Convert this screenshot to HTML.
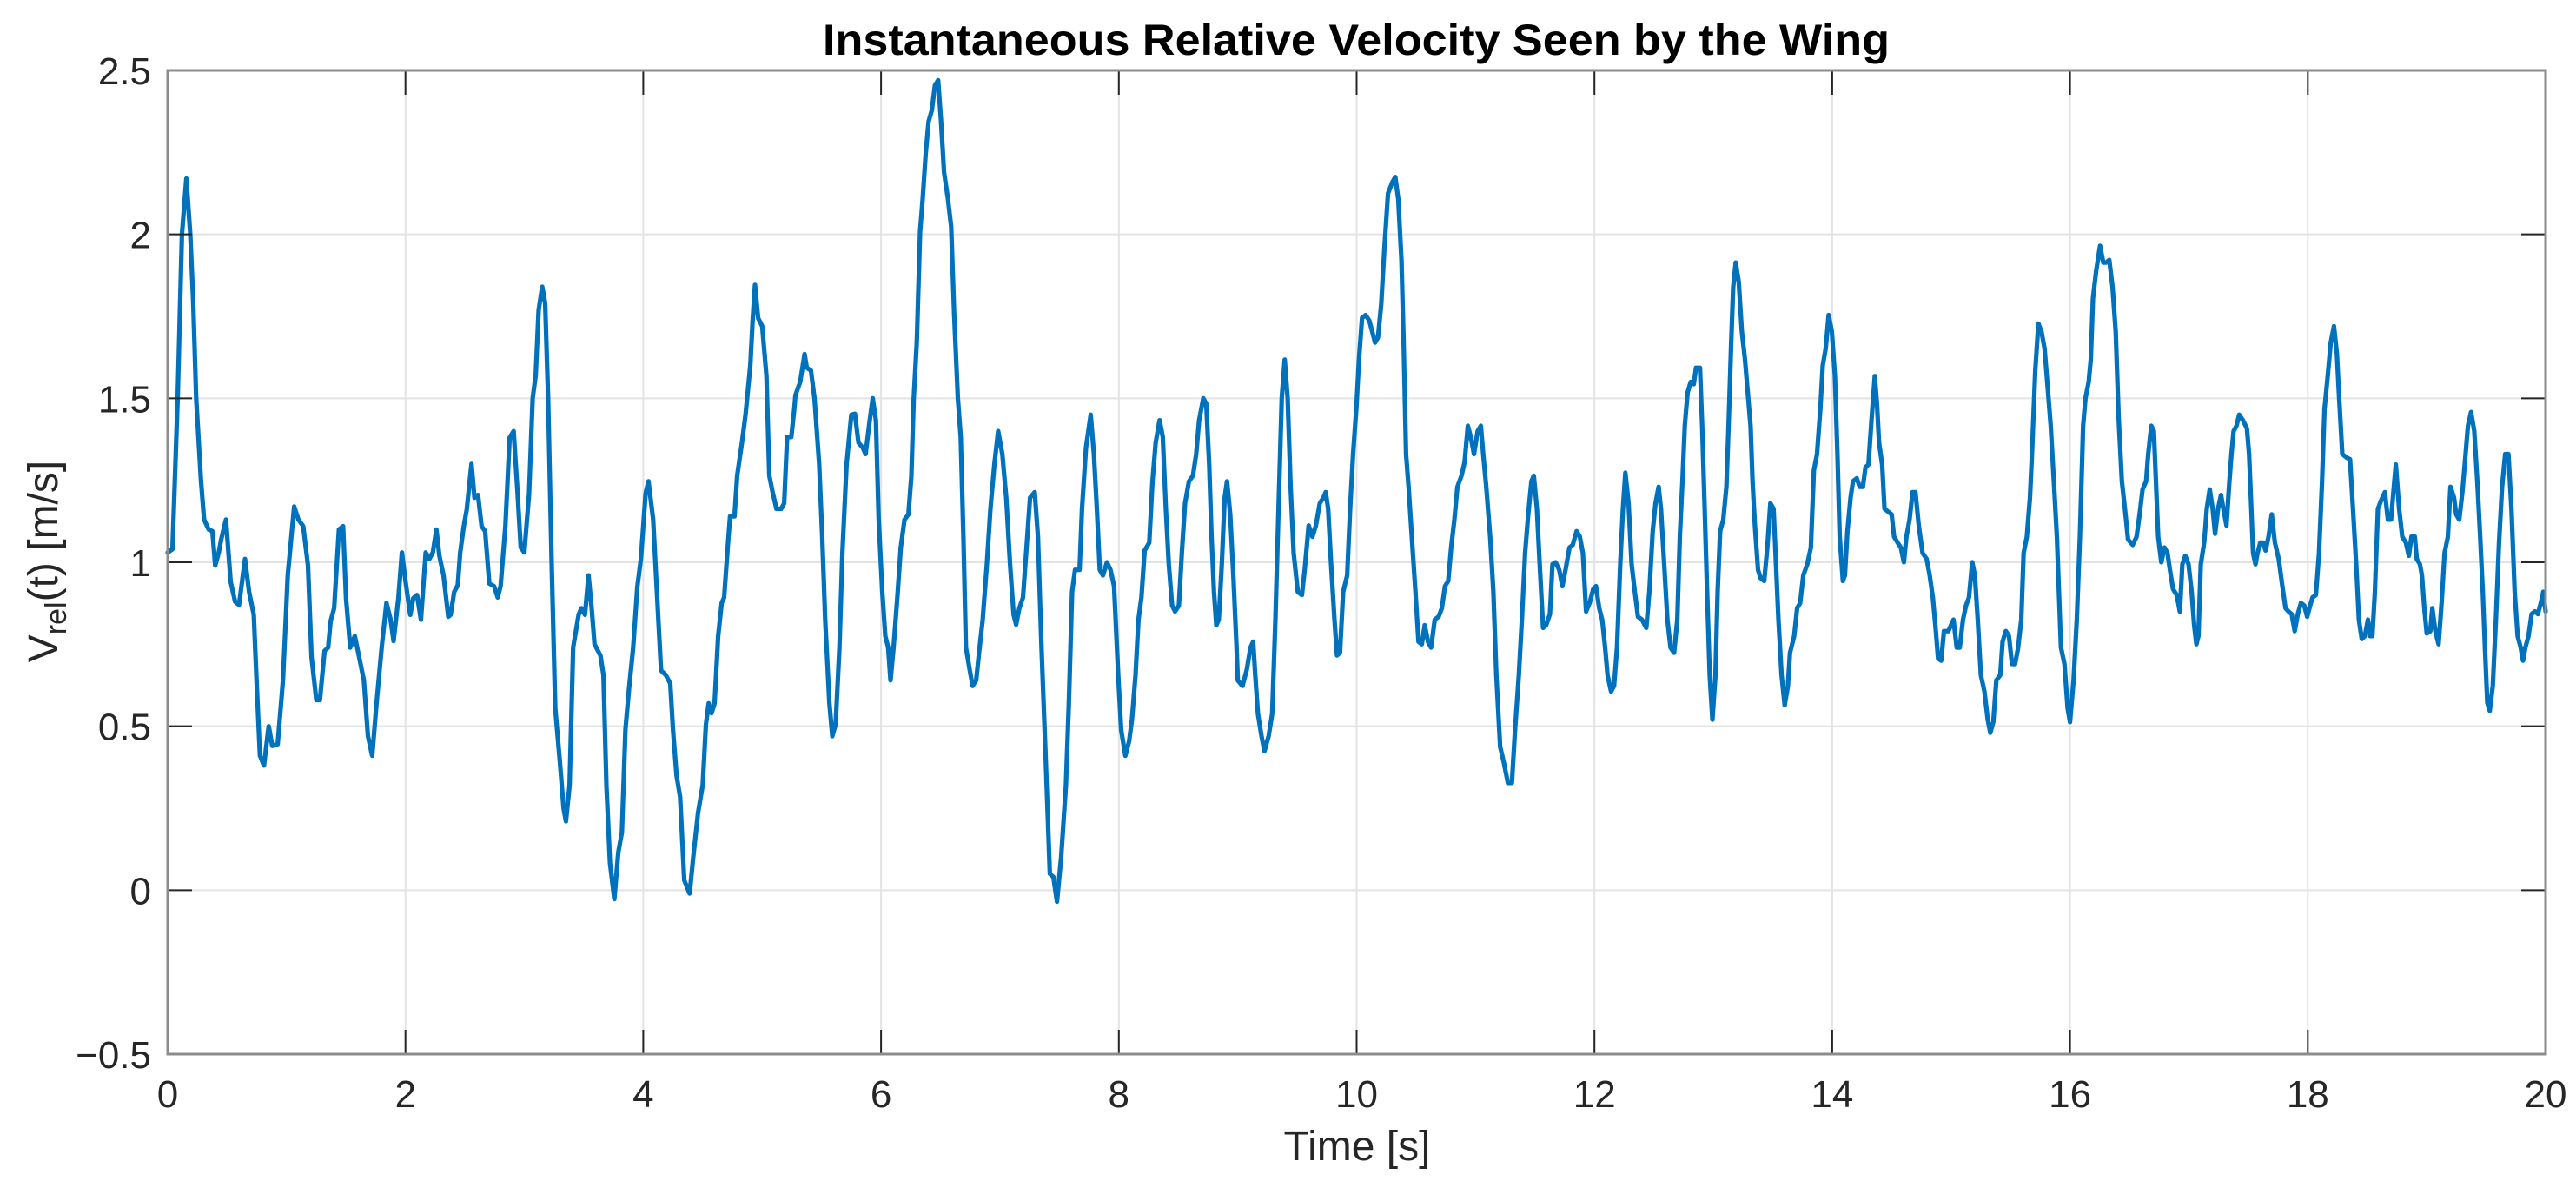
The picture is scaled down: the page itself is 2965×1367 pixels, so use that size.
<!DOCTYPE html>
<html><head><meta charset="utf-8"><style>
html,body{margin:0;padding:0;background:#fff;}
svg{display:block;font-family:"Liberation Sans",Arial,sans-serif;}
</style></head><body>
<svg id="chart" width="2965" height="1367" viewBox="0 0 2965 1367" xmlns="http://www.w3.org/2000/svg">
<rect x="0" y="0" width="2965" height="1367" fill="#fff"/>
<g id="grid"></g>
<g id="series"></g>
<g id="axes"></g>
<text x="1561" y="63" text-anchor="middle" font-weight="bold" font-size="50" textLength="1228" lengthAdjust="spacingAndGlyphs" fill="#000">Instantaneous Relative Velocity Seen by the Wing</text>
<text x="1562" y="1335" text-anchor="middle" font-size="48" fill="#262626">Time [s]</text>
<text transform="translate(66,646) rotate(-90)" text-anchor="middle" font-size="48" fill="#262626">V<tspan font-size="34" dy="10">rel</tspan><tspan dy="-10">(t) [m/s]</tspan></text>
</svg>
<script>
const xTicks = [0,2,4,6,8,10,12,14,16,18,20];
const yTicks = [-0.5,0,0.5,1,1.5,2,2.5];
const yTickLabels = ["\u22120.5","0","0.5","1","1.5","2","2.5"];
const time = [0,0.04,0.084,0.12,0.157,0.19,0.214,0.24,0.28,0.306,0.345,0.376,0.40,0.43,0.45,0.49,0.53,0.567,0.60,0.65,0.685,0.724,0.75,0.776,0.81,0.85,0.88,0.925,0.97,1.01,1.064,1.10,1.14,1.18,1.21,1.25,1.28,1.32,1.35,1.37,1.40,1.44,1.475,1.50,1.535,1.574,1.613,1.65,1.684,1.72,1.757,1.80,1.84,1.875,1.90,1.94,1.97,2.005,2.04,2.065,2.097,2.13,2.17,2.20,2.23,2.26,2.285,2.32,2.36,2.38,2.41,2.44,2.46,2.49,2.515,2.555,2.58,2.61,2.64,2.67,2.705,2.745,2.776,2.80,2.84,2.876,2.91,2.94,2.97,3.0,3.04,3.07,3.095,3.12,3.15,3.175,3.20,3.23,3.26,3.30,3.33,3.35,3.38,3.41,3.456,3.48,3.51,3.54,3.566,3.59,3.64,3.665,3.69,3.72,3.757,3.79,3.82,3.85,3.88,3.915,3.95,3.98,4.02,4.044,4.083,4.11,4.15,4.19,4.227,4.25,4.28,4.31,4.345,4.39,4.42,4.46,4.50,4.527,4.55,4.574,4.60,4.63,4.66,4.68,4.71,4.73,4.767,4.79,4.83,4.86,4.90,4.92,4.94,4.966,5.00,5.036,5.06,5.088,5.12,5.16,5.185,5.21,5.245,5.27,5.28,5.32,5.357,5.375,5.41,5.44,5.48,5.505,5.53,5.565,5.59,5.618,5.65,5.675,5.71,5.75,5.78,5.81,5.845,5.87,5.905,5.93,5.957,5.98,6.01,6.036,6.06,6.08,6.105,6.14,6.166,6.197,6.23,6.255,6.275,6.30,6.328,6.35,6.375,6.40,6.427,6.453,6.48,6.505,6.53,6.563,6.59,6.615,6.646,6.67,6.693,6.714,6.745,6.77,6.80,6.824,6.855,6.89,6.92,6.953,6.985,7.02,7.053,7.085,7.115,7.136,7.163,7.194,7.22,7.253,7.293,7.32,7.35,7.385,7.42,7.45,7.48,7.515,7.555,7.58,7.607,7.632,7.67,7.69,7.724,7.763,7.79,7.815,7.84,7.866,7.90,7.93,7.96,7.995,8.02,8.055,8.086,8.11,8.14,8.165,8.19,8.217,8.256,8.283,8.31,8.343,8.37,8.395,8.42,8.448,8.473,8.505,8.53,8.557,8.59,8.623,8.65,8.675,8.71,8.735,8.76,8.78,8.80,8.82,8.84,8.866,8.89,8.91,8.937,8.963,8.99,9.0,9.04,9.076,9.107,9.13,9.147,9.17,9.2,9.225,9.26,9.29,9.317,9.343,9.37,9.395,9.42,9.445,9.47,9.505,9.54,9.563,9.597,9.628,9.657,9.69,9.72,9.74,9.76,9.785,9.814,9.835,9.86,9.887,9.92,9.945,9.97,9.997,10.02,10.045,10.076,10.107,10.134,10.155,10.18,10.207,10.233,10.264,10.3,10.325,10.35,10.377,10.395,10.416,10.437,10.47,10.495,10.52,10.548,10.573,10.6,10.626,10.657,10.69,10.717,10.743,10.77,10.795,10.822,10.848,10.882,10.908,10.935,10.96,10.987,11.018,11.045,11.065,11.09,11.123,11.15,11.175,11.207,11.24,11.272,11.306,11.332,11.364,11.39,11.417,11.443,11.47,11.49,11.516,11.54,11.568,11.594,11.626,11.647,11.673,11.704,11.73,11.757,11.79,11.817,11.85,11.877,11.903,11.93,11.96,11.99,12.013,12.04,12.065,12.09,12.11,12.14,12.165,12.19,12.217,12.24,12.26,12.287,12.313,12.34,12.366,12.40,12.436,12.462,12.49,12.514,12.54,12.56,12.587,12.614,12.64,12.67,12.697,12.718,12.74,12.76,12.783,12.81,12.835,12.854,12.888,12.906,12.927,12.948,12.97,12.992,13.018,13.036,13.057,13.084,13.11,13.128,13.15,13.167,13.188,13.214,13.24,13.266,13.29,13.313,13.33,13.35,13.376,13.397,13.428,13.454,13.48,13.507,13.527,13.548,13.574,13.6,13.627,13.645,13.68,13.705,13.73,13.757,13.79,13.82,13.846,13.872,13.9,13.92,13.945,13.97,13.997,14.023,14.044,14.063,14.09,14.107,14.128,14.154,14.175,14.206,14.232,14.258,14.28,14.305,14.33,14.358,14.376,14.394,14.42,14.44,14.472,14.5,14.52,14.55,14.577,14.603,14.624,14.65,14.676,14.70,14.728,14.76,14.794,14.82,14.846,14.872,14.89,14.916,14.94,14.977,15.02,15.047,15.073,15.1,15.125,15.15,15.178,15.2,15.224,15.25,15.28,15.308,15.33,15.355,15.38,15.413,15.433,15.46,15.486,15.512,15.538,15.564,15.59,15.61,15.637,15.663,15.68,15.708,15.734,15.76,15.786,15.812,15.838,15.864,15.89,15.924,15.953,15.98,16.0,16.03,16.057,16.083,16.11,16.13,16.157,16.175,16.193,16.22,16.253,16.28,16.305,16.33,16.358,16.384,16.41,16.436,16.462,16.488,16.527,16.56,16.585,16.61,16.64,16.658,16.684,16.705,16.723,16.742,16.768,16.794,16.82,16.84,16.867,16.898,16.924,16.945,16.97,16.997,17.023,17.044,17.063,17.08,17.1,17.128,17.15,17.175,17.2,17.22,17.245,17.27,17.29,17.316,17.337,17.358,17.376,17.4,17.423,17.454,17.488,17.506,17.525,17.54,17.56,17.577,17.6,17.624,17.645,17.67,17.697,17.723,17.755,17.786,17.812,17.838,17.864,17.89,17.916,17.942,17.97,17.995,18.02,18.04,18.068,18.094,18.12,18.14,18.167,18.193,18.22,18.245,18.264,18.29,18.324,18.355,18.38,18.407,18.43,18.454,18.48,18.506,18.525,18.543,18.564,18.59,18.616,18.648,18.674,18.7,18.72,18.74,18.768,18.794,18.825,18.85,18.872,18.9,18.916,18.943,18.96,18.98,19.0,19.03,19.047,19.073,19.1,19.125,19.15,19.178,19.2,19.23,19.248,19.274,19.3,19.32,19.347,19.373,19.4,19.426,19.45,19.472,19.49,19.51,19.53,19.556,19.582,19.608,19.634,19.66,19.687,19.713,19.74,19.765,19.79,19.81,19.83,19.856,19.882,19.91,19.935,19.96,19.98,20.0];
const velocity = [1.03,1.04,1.5,2.0,2.17,2.0,1.8,1.5,1.25,1.13,1.10,1.095,0.99,1.03,1.07,1.13,0.94,0.88,0.87,1.01,0.91,0.84,0.62,0.41,0.38,0.50,0.44,0.445,0.64,0.96,1.17,1.13,1.11,0.99,0.71,0.58,0.58,0.73,0.74,0.82,0.86,1.10,1.11,0.89,0.74,0.775,0.707,0.64,0.47,0.41,0.57,0.74,0.876,0.825,0.76,0.89,1.03,0.93,0.84,0.89,0.90,0.825,1.03,1.01,1.03,1.10,1.02,0.96,0.834,0.84,0.91,0.93,1.03,1.11,1.16,1.30,1.197,1.205,1.11,1.095,0.935,0.927,0.893,0.927,1.11,1.38,1.40,1.23,1.045,1.03,1.21,1.50,1.57,1.77,1.84,1.79,1.50,0.994,0.555,0.386,0.25,0.21,0.32,0.74,0.84,0.86,0.84,0.96,0.86,0.75,0.716,0.656,0.32,0.083,-0.027,0.116,0.176,0.49,0.614,0.74,0.926,1.01,1.21,1.247,1.13,0.94,0.67,0.656,0.63,0.49,0.35,0.285,0.03,-0.01,0.10,0.235,0.32,0.505,0.57,0.54,0.57,0.775,0.876,0.893,1.045,1.14,1.14,1.264,1.365,1.45,1.60,1.737,1.846,1.745,1.72,1.568,1.264,1.214,1.163,1.163,1.18,1.382,1.382,1.467,1.51,1.55,1.635,1.593,1.585,1.50,1.298,1.078,0.825,0.572,0.47,0.505,0.74,1.028,1.298,1.45,1.453,1.365,1.35,1.33,1.433,1.50,1.433,1.13,0.91,0.775,0.74,0.64,0.74,0.91,1.045,1.13,1.146,1.264,1.50,1.67,2.007,2.108,2.243,2.344,2.378,2.454,2.47,2.344,2.19,2.108,2.024,1.754,1.50,1.382,1.078,0.74,0.673,0.623,0.64,0.724,0.825,0.994,1.163,1.298,1.40,1.33,1.197,0.994,0.84,0.81,0.86,0.893,1.028,1.197,1.214,1.078,0.74,0.403,0.05,0.04,-0.035,0.10,0.32,0.572,0.91,0.977,0.977,1.163,1.35,1.45,1.33,1.163,0.977,0.96,1.0,0.977,0.927,0.656,0.488,0.41,0.454,0.52,0.656,0.825,0.893,1.036,1.06,1.247,1.365,1.433,1.382,1.163,0.994,0.868,0.85,0.868,1.028,1.18,1.247,1.264,1.33,1.433,1.50,1.484,1.298,1.078,0.91,0.808,0.825,0.994,1.197,1.247,1.146,0.96,0.74,0.64,0.623,0.673,0.74,0.758,0.656,0.538,0.47,0.424,0.47,0.538,0.825,1.163,1.50,1.618,1.50,1.23,1.028,0.91,0.90,0.977,1.112,1.078,1.112,1.18,1.197,1.214,1.163,0.994,0.825,0.716,0.724,0.91,0.96,1.163,1.33,1.467,1.618,1.745,1.754,1.737,1.70,1.67,1.686,1.787,1.956,2.125,2.159,2.175,2.108,1.922,1.67,1.33,1.23,1.045,0.91,0.758,0.75,0.808,0.758,0.74,0.825,0.834,0.86,0.927,0.943,1.045,1.13,1.23,1.264,1.306,1.416,1.382,1.33,1.40,1.416,1.33,1.23,1.078,0.91,0.656,0.437,0.386,0.327,0.327,0.488,0.656,0.825,1.028,1.146,1.247,1.264,1.163,0.994,0.80,0.808,0.842,0.994,1.0,0.977,0.927,0.977,1.045,1.053,1.095,1.078,1.028,0.85,0.876,0.918,0.927,0.86,0.825,0.74,0.656,0.606,0.623,0.74,0.994,1.163,1.273,1.18,0.994,0.91,0.834,0.825,0.80,0.91,1.095,1.18,1.23,1.163,0.994,0.825,0.74,0.724,0.825,1.078,1.247,1.416,1.517,1.55,1.543,1.593,1.593,1.416,1.163,0.91,0.656,0.52,0.656,0.91,1.095,1.13,1.23,1.416,1.67,1.838,1.914,1.855,1.703,1.618,1.517,1.416,1.247,1.112,0.977,0.952,0.943,1.045,1.18,1.163,0.994,0.825,0.656,0.564,0.623,0.724,0.775,0.86,0.876,0.96,0.994,1.045,1.281,1.33,1.467,1.60,1.652,1.754,1.703,1.568,1.33,1.078,0.943,0.96,1.095,1.197,1.247,1.256,1.23,1.23,1.29,1.298,1.433,1.568,1.484,1.365,1.298,1.163,1.154,1.146,1.078,1.06,1.045,1.0,1.078,1.13,1.214,1.214,1.112,1.028,1.01,0.96,0.893,0.79,0.707,0.70,0.79,0.79,0.825,0.74,0.74,0.825,0.868,0.893,1.0,0.96,0.825,0.656,0.606,0.52,0.48,0.513,0.64,0.656,0.758,0.79,0.775,0.69,0.69,0.74,0.825,1.028,1.078,1.197,1.33,1.585,1.728,1.703,1.652,1.534,1.416,1.247,1.078,0.74,0.69,0.555,0.513,0.64,0.825,1.078,1.416,1.50,1.55,1.618,1.804,1.889,1.965,1.914,1.914,1.922,1.838,1.703,1.433,1.247,1.163,1.07,1.053,1.078,1.146,1.222,1.247,1.33,1.416,1.40,1.247,1.078,1.0,1.045,1.028,0.977,0.918,0.90,0.85,0.994,1.02,0.994,0.91,0.808,0.75,0.775,0.994,1.06,1.163,1.222,1.163,1.087,1.163,1.205,1.163,1.112,1.23,1.33,1.40,1.416,1.45,1.433,1.408,1.33,1.163,1.028,0.994,1.028,1.06,1.06,1.036,1.078,1.146,1.06,1.01,0.927,0.86,0.85,0.842,0.79,0.842,0.876,0.868,0.834,0.868,0.893,0.90,1.028,1.247,1.467,1.568,1.67,1.72,1.635,1.50,1.33,1.32,1.314,1.163,0.994,0.825,0.766,0.775,0.825,0.775,0.775,0.91,1.163,1.188,1.214,1.13,1.13,1.214,1.298,1.163,1.078,1.06,1.02,1.078,1.078,1.01,0.994,0.96,0.86,0.783,0.79,0.86,0.79,0.75,0.876,1.028,1.078,1.23,1.197,1.146,1.13,1.214,1.298,1.416,1.458,1.40,1.247,1.078,0.91,0.74,0.572,0.547,0.623,0.825,1.06,1.23,1.33,1.33,1.163,0.91,0.775,0.74,0.70,0.74,0.775,0.842,0.85,0.842,0.876,0.91,0.85];

const L=193, R=2930, T=81, B=1213;
const xMin=0, xMax=20, yMin=-0.5, yMax=2.5;
function sx(t){return L+(t-xMin)/(xMax-xMin)*(R-L);}
function sy(v){return B-(v-yMin)/(yMax-yMin)*(B-T);}
const NS="http://www.w3.org/2000/svg";
function mk(tag,attrs,parent){const e=document.createElementNS(NS,tag);for(const k in attrs)e.setAttribute(k,attrs[k]);parent.appendChild(e);return e;}
const grid=document.getElementById('grid'), axes=document.getElementById('axes'), series=document.getElementById('series');

xTicks.forEach(function(t){
  if(t>xMin && t<xMax){
    const g=mk('line',{x1:sx(t),x2:sx(t),y1:T,y2:B,stroke:'#e3e3e3','stroke-width':2},grid);
    
    
  }
  const tk=mk('line',{x1:sx(t),x2:sx(t),y1:B,y2:B-28,stroke:'#262626','stroke-width':2},axes);
  
  
  const tk2=mk('line',{x1:sx(t),x2:sx(t),y1:T,y2:T+28,stroke:'#262626','stroke-width':2},axes);
  
  
  const lb=mk('text',{x:sx(t),y:1274,'text-anchor':'middle','font-size':44,fill:'#262626'},axes);
  lb.textContent=String(t);
  
  
});
yTicks.forEach(function(v,i){
  if(v>yMin && v<yMax){
    const g=mk('line',{x1:L,x2:R,y1:sy(v),y2:sy(v),stroke:'#e3e3e3','stroke-width':2},grid);
    
    
  }
  const tk=mk('line',{x1:L,x2:L+28,y1:sy(v),y2:sy(v),stroke:'#262626','stroke-width':2},axes);
  
  
  const tk2=mk('line',{x1:R,x2:R-28,y1:sy(v),y2:sy(v),stroke:'#262626','stroke-width':2},axes);
  
  
  const lb=mk('text',{x:174,y:sy(v)+16,'text-anchor':'end','font-size':44,fill:'#262626'},axes);
  lb.textContent=yTickLabels[i];
  
  
});
const box=mk('rect',{x:L,y:T,width:R-L,height:B-T,fill:'none',stroke:'#8c8c8c','stroke-width':3},axes);



let d='';
for(let i=0;i<time.length;i++){d+=(i?'L':'M')+sx(time[i]).toFixed(1)+' '+sy(velocity[i]).toFixed(1);}
const line=mk('path',{d:d,fill:'none',stroke:'#0072BD','stroke-width':5.2,'stroke-linejoin':'round','stroke-linecap':'round'},series);


</script>
</body></html>
